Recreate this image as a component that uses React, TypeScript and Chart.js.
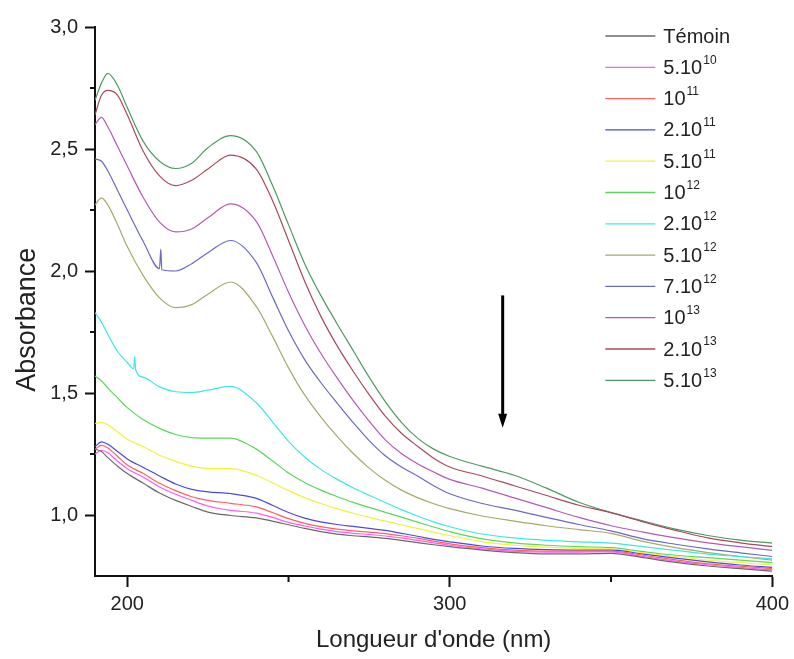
import React, { useEffect, useRef } from 'react';
import { Chart, registerables } from 'chart.js';

Chart.register(...registerables);

// Wavelengths (nm)
const WAVELENGTHS = [190, 192, 194, 197, 200, 205, 210, 215, 220, 225, 232, 240, 245, 250, 255, 260, 265, 270, 275, 280, 285, 290, 295, 300, 310, 320, 330, 340, 350, 360, 370, 380, 390, 400];

// Absorbance series
const TEMOIN = [1.27, 1.26, 1.235, 1.2, 1.17, 1.13, 1.09, 1.06, 1.035, 1.012, 0.998, 0.988, 0.975, 0.96, 0.945, 0.932, 0.922, 0.915, 0.91, 0.904, 0.896, 0.887, 0.878, 0.87, 0.856, 0.846, 0.841, 0.841, 0.843, 0.825, 0.806, 0.791, 0.78, 0.77];
const S_5E10 = [1.25, 1.265, 1.255, 1.22, 1.19, 1.155, 1.115, 1.085, 1.06, 1.037, 1.019, 1.008, 0.99, 0.97, 0.955, 0.942, 0.932, 0.925, 0.92, 0.914, 0.906, 0.896, 0.886, 0.876, 0.861, 0.851, 0.848, 0.848, 0.849, 0.83, 0.811, 0.796, 0.785, 0.775];
const S_1E11 = [1.27, 1.285, 1.275, 1.24, 1.205, 1.17, 1.13, 1.1, 1.075, 1.06, 1.048, 1.033, 1.01, 0.985, 0.966, 0.952, 0.942, 0.935, 0.93, 0.924, 0.915, 0.905, 0.893, 0.882, 0.866, 0.856, 0.852, 0.852, 0.852, 0.835, 0.816, 0.8, 0.79, 0.78];
const S_2E11 = [1.28, 1.3, 1.29, 1.26, 1.23, 1.195, 1.16, 1.127, 1.105, 1.095, 1.088, 1.068, 1.04, 1.01, 0.987, 0.972, 0.961, 0.953, 0.945, 0.937, 0.925, 0.913, 0.9, 0.89, 0.873, 0.863, 0.858, 0.856, 0.856, 0.84, 0.823, 0.808, 0.795, 0.785];
const S_5E11 = [1.375, 1.38, 1.37, 1.34, 1.31, 1.28, 1.245, 1.22, 1.2, 1.19, 1.19, 1.163, 1.132, 1.1, 1.071, 1.047, 1.026, 1.007, 0.99, 0.975, 0.96, 0.945, 0.93, 0.916, 0.891, 0.876, 0.868, 0.863, 0.861, 0.845, 0.83, 0.815, 0.805, 0.795];
const S_1E12 = [1.57, 1.55, 1.52, 1.48, 1.44, 1.39, 1.355, 1.33, 1.317, 1.315, 1.315, 1.27, 1.222, 1.172, 1.133, 1.102, 1.076, 1.052, 1.031, 1.011, 0.991, 0.971, 0.951, 0.932, 0.902, 0.886, 0.876, 0.87, 0.866, 0.85, 0.835, 0.825, 0.815, 0.805];
const S_2E12 = [1.83, 1.79, 1.74, 1.67, 1.625, 1.565, 1.525, 1.505, 1.502, 1.512, 1.527, 1.46, 1.382, 1.302, 1.238, 1.187, 1.147, 1.112, 1.081, 1.051, 1.022, 0.996, 0.972, 0.952, 0.922, 0.906, 0.896, 0.89, 0.885, 0.87, 0.855, 0.84, 0.83, 0.82];
const S_5E12 = [2.27, 2.3, 2.27, 2.19, 2.1, 1.98, 1.89, 1.85, 1.862, 1.905, 1.955, 1.855, 1.733, 1.603, 1.492, 1.402, 1.323, 1.253, 1.192, 1.142, 1.102, 1.071, 1.046, 1.026, 0.996, 0.975, 0.956, 0.94, 0.925, 0.892, 0.866, 0.846, 0.83, 0.815];
const S_7E12 = [2.46, 2.45, 2.41, 2.33, 2.25, 2.12, 2.01, 2.0, 2.03, 2.075, 2.125, 2.035, 1.895, 1.755, 1.637, 1.543, 1.46, 1.38, 1.305, 1.243, 1.197, 1.16, 1.12, 1.087, 1.047, 1.02, 0.99, 0.961, 0.935, 0.902, 0.88, 0.861, 0.845, 0.83];
const S_1E13 = [2.6, 2.63, 2.59, 2.51, 2.43, 2.3, 2.2, 2.16, 2.172, 2.218, 2.275, 2.203, 2.065, 1.913, 1.778, 1.663, 1.563, 1.47, 1.385, 1.308, 1.252, 1.21, 1.176, 1.146, 1.11, 1.07, 1.03, 0.99, 0.956, 0.93, 0.906, 0.886, 0.87, 0.855];
const S_2E13 = [2.64, 2.72, 2.74, 2.72, 2.64, 2.49, 2.39, 2.35, 2.372, 2.418, 2.475, 2.418, 2.29, 2.125, 1.958, 1.815, 1.695, 1.59, 1.493, 1.405, 1.335, 1.282, 1.233, 1.197, 1.16, 1.12, 1.08, 1.04, 1.01, 0.972, 0.937, 0.906, 0.886, 0.87];
const S_5E13 = [2.7, 2.77, 2.81, 2.76, 2.67, 2.53, 2.45, 2.42, 2.442, 2.505, 2.555, 2.49, 2.352, 2.19, 2.03, 1.9, 1.785, 1.675, 1.565, 1.465, 1.38, 1.315, 1.27, 1.24, 1.2, 1.163, 1.11, 1.052, 1.01, 0.975, 0.942, 0.916, 0.897, 0.885];

// Spikes (wavelength, absorbance)
const SPIKE_2E12 = [[202.0, 1.6], [202.3, 1.65], [202.6, 1.595]];
const SPIKE_7E12 = [[210.4, 2.09], [210.7, 2.005]];

// Legend labels: base text and superscript exponent
const LABEL_BASES = ['Témoin', '5.10', '10', '2.10', '5.10', '10', '2.10', '5.10', '7.10', '10', '2.10', '5.10'];
const LABEL_EXPONENTS = ['', '10', '11', '11', '11', '12', '12', '12', '12', '13', '13', '13'];
const SERIES = [TEMOIN, S_5E10, S_1E11, S_2E11, S_5E11, S_1E12, S_2E12, S_5E12, S_7E12, S_1E13, S_2E13, S_5E13];
const SPIKES: Record<number, number[][]> = { 6: SPIKE_2E12, 8: SPIKE_7E12 };
const COLORS = ['#6a6a6a', '#ff5cf0', '#ff5f5f', '#4a4ae0', '#f2f23a', '#5cd65c', '#3fe6e6', '#a8a86c', '#6a6ac2', '#b45ab4', '#a84a5c', '#4f9a60'];

// Axis ticks
const X_TICKS = [200, 300, 400];
const X_MINOR = [250, 350];
const Y_TICKS = [1.0, 1.5, 2.0, 2.5, 3.0];
const Y_MINOR = [1.25, 1.75, 2.25, 2.75];

// Axis titles
const X_TITLE = "Longueur d'onde (nm)";
const Y_TITLE = 'Absorbance';

// Arrow (nm, absorbance from -> to)
const ARROW_X = 316.4;
const ARROW_FROM = 1.9;
const ARROW_TO = 1.358;

const FONT = "'Liberation Sans', Arial, sans-serif";

const overlayPlugin = {
  id: 'overlay',
  afterDraw(chart: any) {
    const { ctx, chartArea } = chart;
    const xs = chart.scales.x;
    const ys = chart.scales.y;
    ctx.save();
    // minor ticks
    ctx.strokeStyle = '#111';
    ctx.lineWidth = 2;
    ctx.beginPath();
    for (const v of Y_MINOR) {
      const py = ys.getPixelForValue(v);
      ctx.moveTo(chartArea.left - 5, py);
      ctx.lineTo(chartArea.left, py);
    }
    for (const v of X_MINOR) {
      const px = xs.getPixelForValue(v);
      ctx.moveTo(px, chartArea.bottom);
      ctx.lineTo(px, chartArea.bottom + 6);
    }
    ctx.stroke();

    // y-axis title
    ctx.save();
    ctx.translate(28, ys.getPixelForValue(1.8));
    ctx.rotate(-Math.PI / 2);
    ctx.fillStyle = '#222';
    ctx.font = `27px ${FONT}`;
    ctx.textAlign = 'center';
    ctx.textBaseline = 'middle';
    ctx.fillText(Y_TITLE, 0, 0);
    ctx.restore();

    // arrow
    const ax = xs.getPixelForValue(ARROW_X);
    const ay1 = ys.getPixelForValue(ARROW_FROM);
    const ay2 = ys.getPixelForValue(ARROW_TO);
    ctx.strokeStyle = '#000';
    ctx.fillStyle = '#000';
    ctx.lineWidth = 3;
    ctx.beginPath();
    ctx.moveTo(ax, ay1);
    ctx.lineTo(ax, ay2 - 12);
    ctx.stroke();
    ctx.beginPath();
    ctx.moveTo(ax - 4.5, ay2 - 14);
    ctx.lineTo(ax + 4.5, ay2 - 14);
    ctx.lineTo(ax, ay2);
    ctx.closePath();
    ctx.fill();

    // legend
    const lx = chartArea.right - 167;
    const ly0 = 36;
    const step = 31.3;
    LABEL_BASES.forEach((base, i) => {
      const y = ly0 + i * step;
      ctx.strokeStyle = COLORS[i];
      ctx.lineWidth = 1.3;
      ctx.beginPath();
      ctx.moveTo(lx, y);
      ctx.lineTo(lx + 50, y);
      ctx.stroke();
      ctx.fillStyle = '#222';
      ctx.textBaseline = 'middle';
      ctx.textAlign = 'left';
      ctx.font = `20px ${FONT}`;
      ctx.fillText(base, lx + 58, y + 1);
      const w = ctx.measureText(base).width;
      if (LABEL_EXPONENTS[i]) {
        ctx.font = `12px ${FONT}`;
        ctx.fillText(LABEL_EXPONENTS[i], lx + 58 + w + 1, y - 7);
      }
    });
    ctx.restore();
  },
};

export default function App() {
  const canvasRef = useRef<HTMLCanvasElement | null>(null);

  useEffect(() => {
    const canvas = canvasRef.current;
    if (!canvas) return;
    const datasets = SERIES.map((vals, i) => {
      const pts = WAVELENGTHS.map((x, j) => ({ x, y: vals[j] }));
      const extra = SPIKES[i] || [];
      extra.forEach(([x, y]) => pts.push({ x, y }));
      pts.sort((a, b) => a.x - b.x);
      return {
        label: LABEL_BASES[i] + (LABEL_EXPONENTS[i] ? '^' + LABEL_EXPONENTS[i] : ''),
        data: pts,
        borderColor: COLORS[i],
        backgroundColor: COLORS[i],
        borderWidth: 1.2,
        pointRadius: 0,
        cubicInterpolationMode: 'monotone' as const,
        fill: false,
      };
    });
    const chart = new Chart(canvas, {
      type: 'line',
      data: { datasets },
      options: {
        animation: false,
        responsive: false,
        maintainAspectRatio: false,
        layout: { padding: { top: 27, right: 20, left: 0, bottom: 0 } },
        plugins: { legend: { display: false }, tooltip: { enabled: false } },
        scales: {
          x: {
            type: 'linear',
            min: 190,
            max: 400,
            afterBuildTicks: (s: any) => {
              s.ticks = X_TICKS.map((v) => ({ value: v }));
            },
            afterFit: (s: any) => {
              s.height = 83;
            },
            ticks: {
              color: '#222',
              font: { family: FONT, size: 20 },
              padding: 5,
              maxRotation: 0,
              autoSkip: false,
              callback: (v: any) => String(v),
            },
            grid: { display: true, drawOnChartArea: false, drawTicks: true, tickLength: 11, tickWidth: 2, tickColor: '#111' },
            border: { display: true, color: '#111', width: 2 },
            title: { display: true, text: X_TITLE, color: '#222', font: { family: FONT, size: 24 }, padding: { top: 0, bottom: 4 } },
          },
          y: {
            type: 'linear',
            min: 0.75,
            max: 3.0,
            afterBuildTicks: (s: any) => {
              s.ticks = Y_TICKS.map((v) => ({ value: v }));
            },
            afterFit: (s: any) => {
              s.width = 95;
            },
            ticks: {
              color: '#222',
              font: { family: FONT, size: 20 },
              padding: 7,
              callback: (v: any) => Number(v).toFixed(1).replace('.', ','),
            },
            grid: { display: true, drawOnChartArea: false, drawTicks: true, tickLength: 10, tickWidth: 2, tickColor: '#111' },
            border: { display: true, color: '#111', width: 2 },
            title: { display: false },
          },
        },
      },
      plugins: [overlayPlugin],
    });
    return () => chart.destroy();
  }, []);

  return (
    <div style={{ position: 'fixed', left: 0, top: 0, width: 794, height: 659, background: '#fff' }}>
      <canvas ref={canvasRef} width={794} height={659} style={{ display: 'block', width: 794, height: 659 }} />
    </div>
  );
}
